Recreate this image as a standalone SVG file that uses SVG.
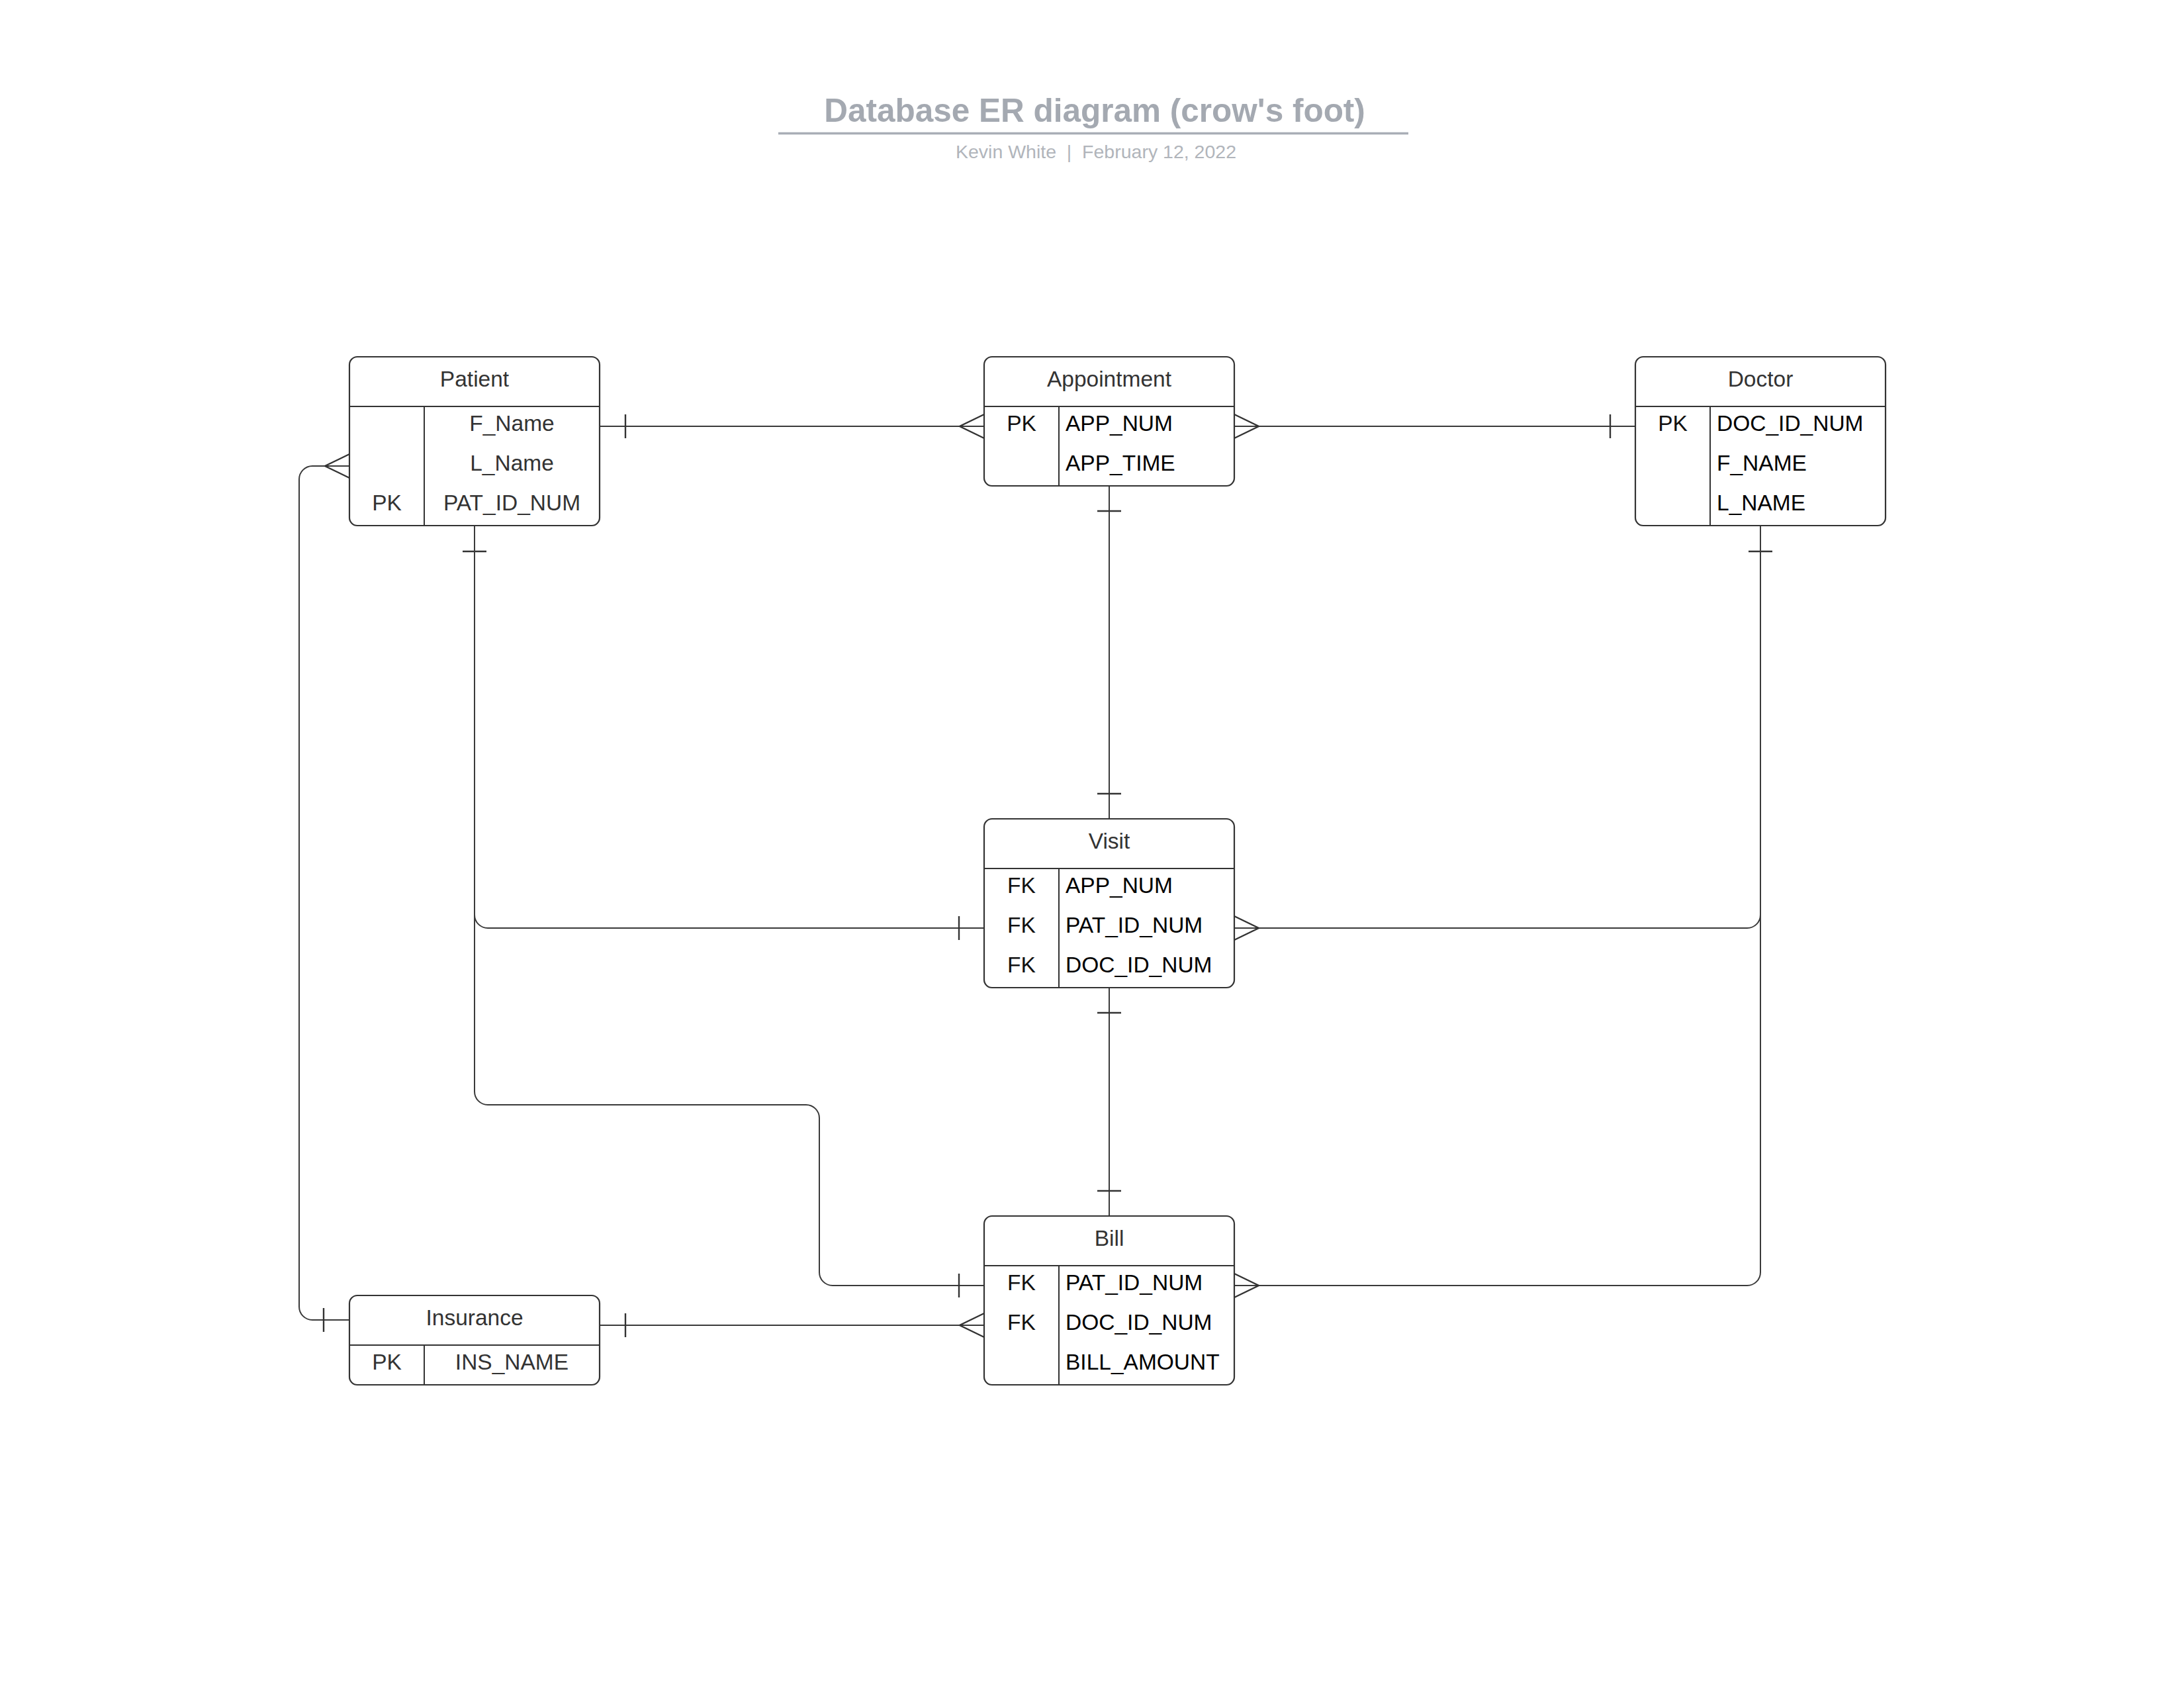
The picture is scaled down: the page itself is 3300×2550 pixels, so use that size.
<svg xmlns="http://www.w3.org/2000/svg" width="3300" height="2550" viewBox="0 0 3300 2550">
  <style>
    .box { fill: #ffffff; stroke: #333333; stroke-width: 2.2; }
    .div { stroke: #333333; stroke-width: 2; fill: none; }
    .hdr { font-family: "Liberation Sans", Arial, sans-serif; font-size: 33.5px; fill: #333333; text-anchor: middle; }
    .key { font-family: "Liberation Sans", Arial, sans-serif; font-size: 33.5px; fill: #111111; text-anchor: middle; }
    .att { font-family: "Liberation Sans", Arial, sans-serif; font-size: 33.5px; fill: #000000; }
    .attc { font-family: "Liberation Sans", Arial, sans-serif; font-size: 33.5px; fill: #333333; text-anchor: middle; }
    .keyg { fill: #333333; }
    .conn { fill: none; stroke: #3a3a3a; stroke-width: 2; }
    .mark { fill: none; stroke: #333333; stroke-width: 2.4; }
  </style>

  <!-- Title block -->
  <g id="title">
    <text x="1654" y="184" font-family="Liberation Sans, Arial, sans-serif" font-size="49.5" font-weight="bold" fill="#a4a9b1" text-anchor="middle">Database ER diagram (crow's foot)</text>
    <line x1="1176" y1="201.5" x2="2128" y2="201.5" stroke="#a9aeb6" stroke-width="3.5"/>
    <text x="1656" y="239" font-family="Liberation Sans, Arial, sans-serif" font-size="28.5" fill="#b1b5bb" text-anchor="middle" xml:space="preserve">Kevin White  |  February 12, 2022</text>
  </g>

  <!-- Relationship lines with cardinality marks -->
  <g id="connectors">
    <!-- Patient to Appointment -->
    <path class="conn" d="M906,644 H1487"/>
    <path class="mark" d="M945,626 V662"/>
    <path class="mark" d="M1487,626 L1450,644 L1487,662"/>

    <!-- Appointment to Doctor -->
    <path class="conn" d="M1865,644 H2471"/>
    <path class="mark" d="M1865,626 L1902,644 L1865,662"/>
    <path class="mark" d="M2433,626 V662"/>

    <!-- Appointment to Visit -->
    <path class="conn" d="M1676,734 V1237"/>
    <path class="mark" d="M1658,772 H1694"/>
    <path class="mark" d="M1658,1199 H1694"/>

    <!-- Patient to Visit -->
    <path class="conn" d="M717,794 V1382 A20,20 0 0 0 737,1402 H1487"/>
    <path class="mark" d="M699,833 H735"/>
    <path class="mark" d="M1449,1384 V1420"/>

    <!-- Patient to Bill -->
    <path class="conn" d="M717,794 V1649 A20,20 0 0 0 737,1669 H1218 A20,20 0 0 1 1238,1689 V1922 A20,20 0 0 0 1258,1942 H1487"/>
    <path class="mark" d="M1449,1924 V1960"/>

    <!-- Doctor to Visit -->
    <path class="conn" d="M2660,794 V1382 A20,20 0 0 1 2640,1402 H1865"/>
    <path class="mark" d="M2642,833 H2678"/>
    <path class="mark" d="M1865,1384 L1902,1402 L1865,1420"/>

    <!-- Doctor to Bill -->
    <path class="conn" d="M2660,794 V1922 A20,20 0 0 1 2640,1942 H1865"/>
    <path class="mark" d="M1865,1924 L1902,1942 L1865,1960"/>

    <!-- Visit to Bill -->
    <path class="conn" d="M1676,1492 V1837"/>
    <path class="mark" d="M1658,1530 H1694"/>
    <path class="mark" d="M1658,1799 H1694"/>

    <!-- Patient to Insurance -->
    <path class="conn" d="M528,704 H472 A20,20 0 0 0 452,724 V1974 A20,20 0 0 0 472,1994 H528"/>
    <path class="mark" d="M528,686 L491,704 L528,722"/>
    <path class="mark" d="M489,1976 V2012"/>

    <!-- Insurance to Bill -->
    <path class="conn" d="M906,2002 H1487"/>
    <path class="mark" d="M945,1984 V2020"/>
    <path class="mark" d="M1487,1984 L1450,2002 L1487,2020"/>
  </g>

  <!-- Patient -->
  <g id="patient">
    <rect class="box" x="528" y="539" width="378" height="255" rx="12"/>
    <path class="div" d="M528,614 H906 M641,614 V794"/>
    <text class="hdr" x="717" y="584">Patient</text>
    <text class="attc" x="773.5" y="651">F_Name</text>
    <text class="attc" x="773.5" y="711">L_Name</text>
    <text class="key keyg" x="584.5" y="771">PK</text>
    <text class="attc" x="773.5" y="771">PAT_ID_NUM</text>
  </g>

  <!-- Appointment -->
  <g id="appointment">
    <rect class="box" x="1487" y="539" width="378" height="195" rx="12"/>
    <path class="div" d="M1487,614 H1865 M1600,614 V734"/>
    <text class="hdr" x="1676" y="584">Appointment</text>
    <text class="key" x="1543.5" y="651">PK</text>
    <text class="att" x="1610" y="651">APP_NUM</text>
    <text class="att" x="1610" y="711">APP_TIME</text>
  </g>

  <!-- Doctor -->
  <g id="doctor">
    <rect class="box" x="2471" y="539" width="378" height="255" rx="12"/>
    <path class="div" d="M2471,614 H2849 M2584,614 V794"/>
    <text class="hdr" x="2660" y="584">Doctor</text>
    <text class="key" x="2527.5" y="651">PK</text>
    <text class="att" x="2594" y="651">DOC_ID_NUM</text>
    <text class="att" x="2594" y="711">F_NAME</text>
    <text class="att" x="2594" y="771">L_NAME</text>
  </g>

  <!-- Visit -->
  <g id="visit">
    <rect class="box" x="1487" y="1237" width="378" height="255" rx="12"/>
    <path class="div" d="M1487,1312 H1865 M1600,1312 V1492"/>
    <text class="hdr" x="1676" y="1282">Visit</text>
    <text class="key" x="1543.5" y="1349">FK</text>
    <text class="att" x="1610" y="1349">APP_NUM</text>
    <text class="key" x="1543.5" y="1409">FK</text>
    <text class="att" x="1610" y="1409">PAT_ID_NUM</text>
    <text class="key" x="1543.5" y="1469">FK</text>
    <text class="att" x="1610" y="1469">DOC_ID_NUM</text>
  </g>

  <!-- Bill -->
  <g id="bill">
    <rect class="box" x="1487" y="1837" width="378" height="255" rx="12"/>
    <path class="div" d="M1487,1912 H1865 M1600,1912 V2092"/>
    <text class="hdr" x="1676" y="1882">Bill</text>
    <text class="key" x="1543.5" y="1949">FK</text>
    <text class="att" x="1610" y="1949">PAT_ID_NUM</text>
    <text class="key" x="1543.5" y="2009">FK</text>
    <text class="att" x="1610" y="2009">DOC_ID_NUM</text>
    <text class="att" x="1610" y="2069">BILL_AMOUNT</text>
  </g>

  <!-- Insurance -->
  <g id="insurance">
    <rect class="box" x="528" y="1957" width="378" height="135" rx="12"/>
    <path class="div" d="M528,2032 H906 M641,2032 V2092"/>
    <text class="hdr" x="717" y="2002">Insurance</text>
    <text class="key keyg" x="584.5" y="2069">PK</text>
    <text class="attc" x="773.5" y="2069">INS_NAME</text>
  </g>
</svg>
